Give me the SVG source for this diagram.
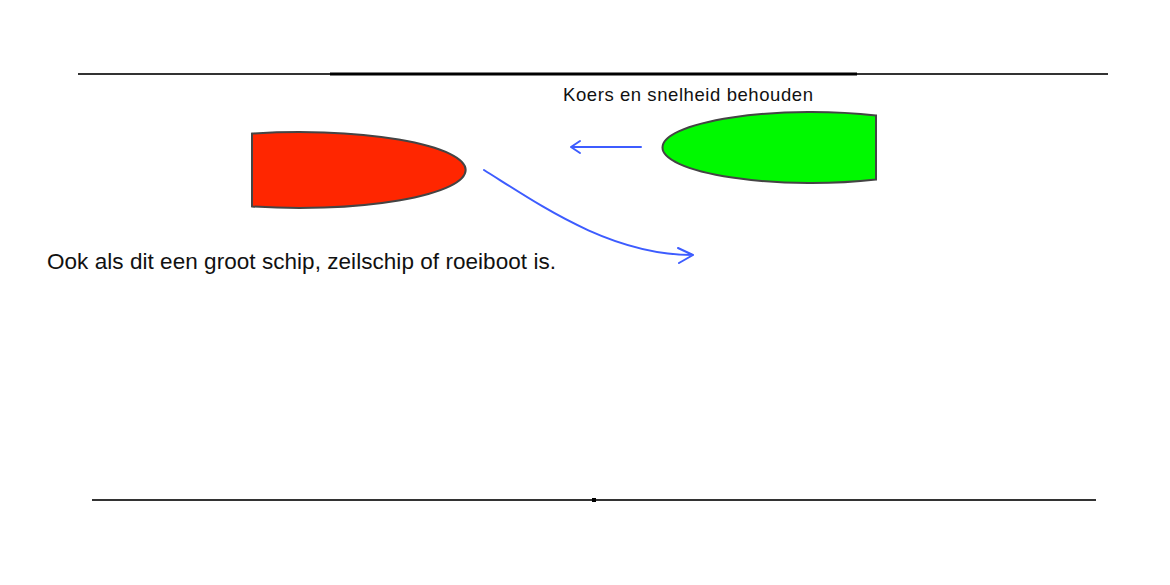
<svg xmlns="http://www.w3.org/2000/svg" width="1170" height="585" viewBox="0 0 1170 585">
<style>
.boat{stroke:#444;stroke-width:2}
.arrow{fill:none;stroke:#3d5cff;stroke-width:2;stroke-linecap:round;stroke-linejoin:round}
.bank{stroke:#333;stroke-width:2.2}
text{font-family:"Liberation Sans",Arial,sans-serif;fill:#111}
</style>
<rect width="1170" height="585" fill="#fff"/>
<g id="banks">
<line class="bank" x1="78" y1="74" x2="1108" y2="74"/>
<line x1="330" y1="74" x2="857" y2="74" stroke="#000" stroke-width="3"/>
<line class="bank" x1="92" y1="500" x2="1096" y2="500"/>
<rect x="592" y="498" width="4" height="4" fill="#000"/>
</g>
<g id="red-boat">
<path class="boat" fill="#ff2600" d="M252,133.6 A166,38 0 1,1 252,206.4 Z"/>
</g>
<g id="green-boat">
<path class="boat" fill="#00f900" d="M876,115.5 A149,35.5 0 1,0 876,179.5 Z"/>
</g>
<g id="connectors">
<path class="arrow" d="M641,147 L571,147 M580,141 L571,147 L580,153"/>
<path class="arrow" d="M484,170 C540,205 610,255 693,255 M678,248 L693,255 L679,263"/>
</g>
<g id="labels">
<text x="563" y="101" font-size="18.5" textLength="250" lengthAdjust="spacing">Koers en snelheid behouden</text>
<text x="47" y="269" font-size="22.5" textLength="509" lengthAdjust="spacing">Ook als dit een groot schip, zeilschip of roeiboot is.</text>
</g>
</svg>
